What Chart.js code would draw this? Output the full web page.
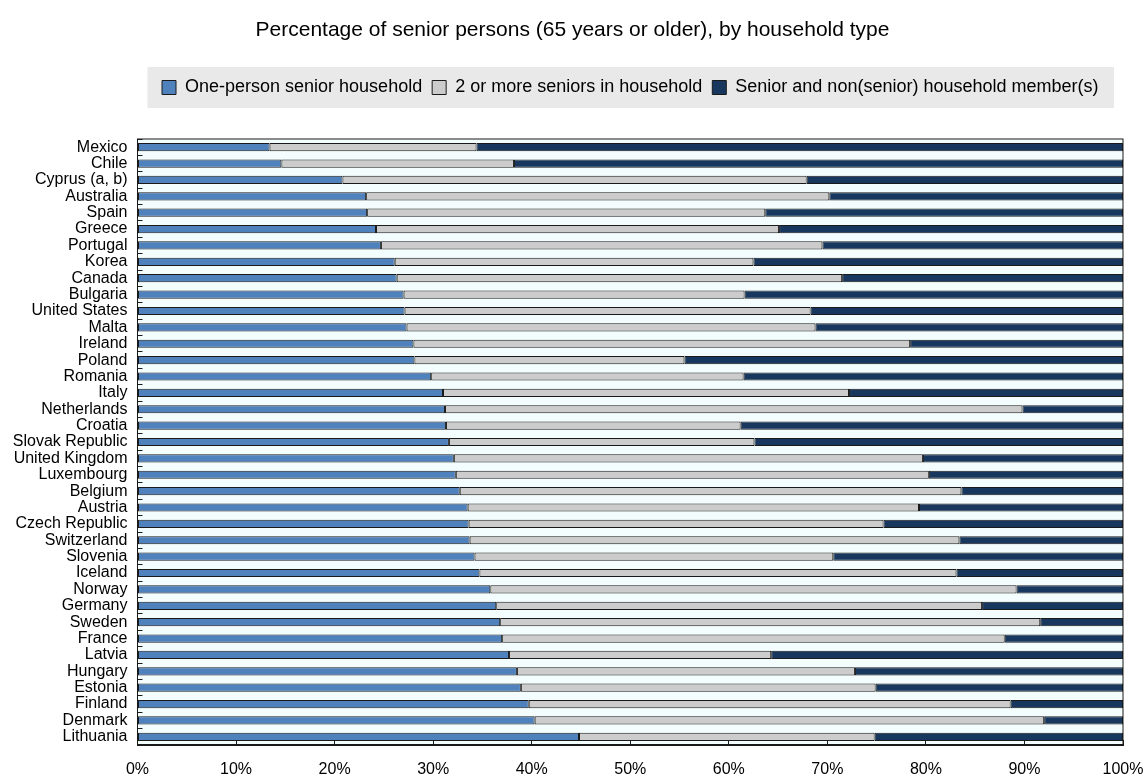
<!DOCTYPE html>
<html>
<head>
<meta charset="utf-8">
<title>Senior persons by household type</title>
<script src="https://cdn.jsdelivr.net/npm/chart.js@4"></script>
<style>
  body { margin: 0; background: #fff; }
  #chart { display: block; }
</style>
</head>
<body>
<canvas id="chart" width="1145" height="776"></canvas>
<script>
// Data (shares in %, stacked to 100)
const countries = ['Mexico', 'Chile', 'Cyprus (a, b)', 'Australia', 'Spain', 'Greece', 'Portugal', 'Korea',
    'Canada', 'Bulgaria', 'United States', 'Malta', 'Ireland', 'Poland', 'Romania', 'Italy', 'Netherlands',
    'Croatia', 'Slovak Republic', 'United Kingdom', 'Luxembourg', 'Belgium', 'Austria', 'Czech Republic',
    'Switzerland', 'Slovenia', 'Iceland', 'Norway', 'Germany', 'Sweden', 'France', 'Latvia', 'Hungary',
    'Estonia', 'Finland', 'Denmark', 'Lithuania'];

const onePerson = [13.4, 14.6, 20.8, 23.2, 23.3, 24.2, 24.7, 26.1, 26.3, 27.0, 27.1, 27.3, 28.0, 28.1, 29.8,
    31.0, 31.2, 31.3, 31.6, 32.1, 32.3, 32.7, 33.5, 33.6, 33.7, 34.2, 34.7, 35.8, 36.4, 36.8, 37.0, 37.7,
    38.5, 38.9, 39.7, 40.3, 44.8];

const twoOrMore = [21.0, 23.6, 47.1, 47.0, 40.4, 40.9, 44.8, 36.4, 45.2, 34.6, 41.2, 41.5, 50.4, 27.4, 31.7,
    41.2, 58.6, 29.9, 31.0, 47.6, 48.0, 50.9, 45.8, 42.1, 49.7, 36.4, 48.4, 53.4, 49.3, 54.8, 51.0, 26.6,
    34.3, 36.0, 48.9, 51.7, 30.0];

const withNonSenior = [65.6, 61.8, 32.1, 29.8, 36.3, 34.9, 30.5, 37.5, 28.5, 38.4, 31.7, 31.2, 21.6, 44.5, 38.5,
    27.8, 10.2, 38.8, 37.4, 20.3, 19.7, 16.4, 20.7, 24.3, 16.6, 29.4, 16.9, 10.8, 14.3, 8.4, 12.0, 35.7,
    27.2, 25.1, 11.4, 8.0, 25.2];

const xTickLabels = ['0%', '10%', '20%', '30%', '40%', '50%', '60%', '70%', '80%', '90%', '100%'];

const seriesNames = ['One-person senior household', '2 or more seniors in household',
    'Senior and non(senior) household member(s)'];

// Grey legend strip, plot background and frame
const chartDecor = {
    id: 'chartDecor',
    beforeInit(chart) {
        // extra room between legend and plot
        const legend = chart.legend;
        const fit = legend.fit;
        legend.fit = function() {
            fit.call(this);
            this.height += 32.5;
        };
    },
    beforeDraw(chart) {
        const {ctx, chartArea, legend} = chart;
        const mid = legend.top + 10 + 9;
        ctx.save();
        ctx.fillStyle = '#e9e9e9';
        ctx.fillRect(chartArea.left + 10, mid - 20.5, chartArea.right - chartArea.left - 19, 41);
        ctx.fillStyle = '#f4fdfd';
        ctx.fillRect(chartArea.left, chartArea.top, chartArea.right - chartArea.left, chartArea.bottom - chartArea.top);
        ctx.restore();
    },
    afterDatasetsDraw(chart) {
        const {ctx, chartArea} = chart;
        ctx.save();
        ctx.strokeStyle = '#1a1a1a';
        ctx.lineWidth = 1;
        ctx.strokeRect(chartArea.left, chartArea.top, chartArea.right - chartArea.left, chartArea.bottom - chartArea.top);
        ctx.restore();
    }
};

const font = 'Liberation Sans, Arial, sans-serif';

new Chart(document.getElementById('chart'), {
    type: 'bar',
    data: {
        labels: countries,
        datasets: [{
            label: seriesNames[0],
            data: onePerson,
            backgroundColor: '#4f81bd'
        }, {
            label: seriesNames[1],
            data: twoOrMore,
            backgroundColor: '#cccccc'
        }, {
            label: seriesNames[2],
            data: withNonSenior,
            backgroundColor: '#17375e'
        }]
    },
    options: {
        indexAxis: 'y',
        responsive: false,
        devicePixelRatio: 1,
        animation: false,
        layout: {
            padding: { left: 0, right: 0, top: 0, bottom: 0 }
        },
        datasets: {
            bar: {
                borderColor: '#1a1a1a',
                borderWidth: 1,
                borderSkipped: false,
                categoryPercentage: 1,
                barPercentage: 0.5
            }
        },
        scales: {
            x: {
                stacked: true,
                min: 0,
                max: 100,
                ticks: {
                    stepSize: 10,
                    color: '#000',
                    padding: 20,
                    font: { family: font, size: 16 },
                    callback: (v, i) => xTickLabels[i]
                },
                grid: {
                    drawOnChartArea: false,
                    drawTicks: true,
                    tickLength: -5,
                    color: '#1a1a1a'
                },
                border: { color: '#1a1a1a', width: 2 },
                afterFit(scale) {
                    scale.height = 31;
                    scale.paddingLeft = 0;
                    scale.paddingRight = 22;
                }
            },
            y: {
                stacked: true,
                ticks: {
                    autoSkip: false,
                    color: '#000',
                    padding: 15,
                    font: { family: font, size: 16 }
                },
                grid: {
                    drawOnChartArea: false,
                    drawTicks: true,
                    tickLength: -5,
                    color: '#1a1a1a'
                },
                border: { color: '#1a1a1a', width: 1 },
                afterFit(scale) { scale.width = 137.5; }
            }
        },
        plugins: {
            title: {
                display: true,
                text: 'Percentage of senior persons (65 years or older), by household type',
                color: '#000',
                font: { family: font, size: 21, weight: 'normal' },
                padding: { top: 18, bottom: 25.3 }
            },
            legend: {
                fullSize: false,
                labels: {
                    color: '#000',
                    boxWidth: 14,
                    boxHeight: 14,
                    padding: 10,
                    font: { family: font, size: 18 }
                }
            },
            tooltip: { enabled: false }
        }
    },
    plugins: [chartDecor]
});
</script>
</body>
</html>
